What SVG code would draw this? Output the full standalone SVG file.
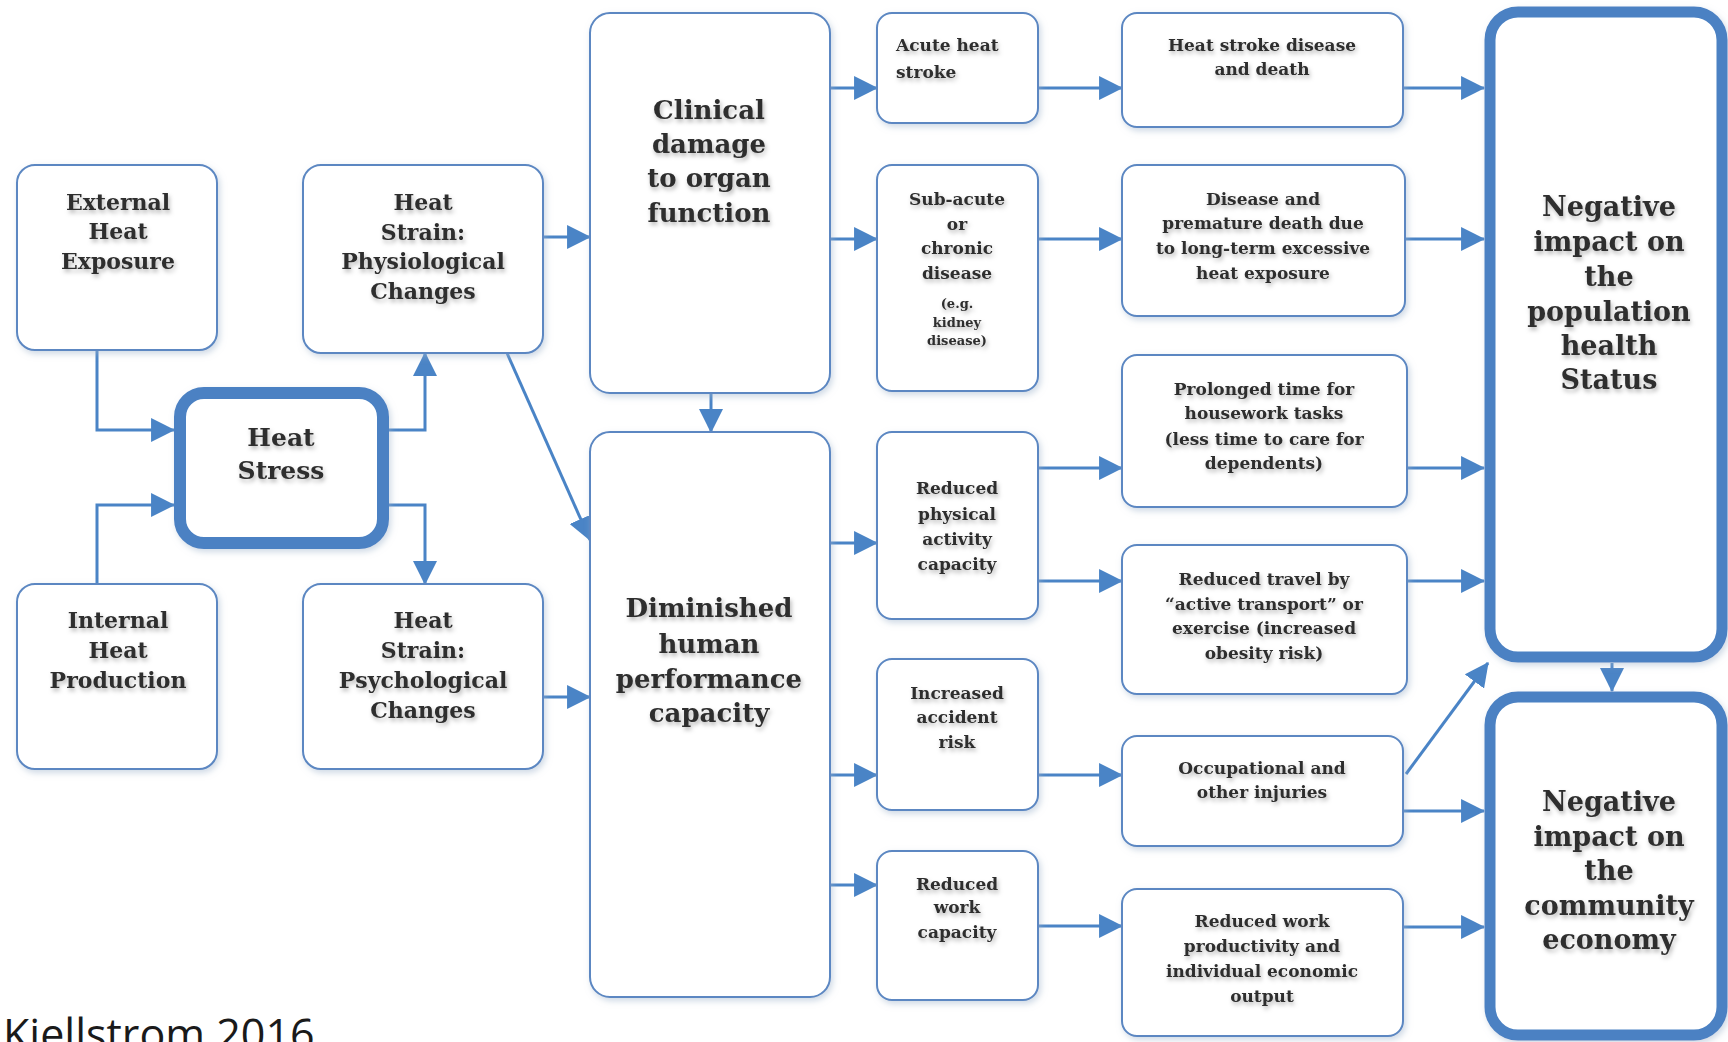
<svg xmlns="http://www.w3.org/2000/svg" width="1728" height="1042" viewBox="0 0 1728 1042">
<defs>
<filter id="bs" x="-10%" y="-10%" width="130%" height="130%"><feDropShadow dx="2" dy="3" stdDeviation="3" flood-color="#9fb3cc" flood-opacity="0.5"/></filter>
<filter id="ts" x="-10%" y="-20%" width="130%" height="160%"><feDropShadow dx="1.5" dy="3" stdDeviation="2.2" flood-color="#000" flood-opacity="0.28"/></filter>
<marker id="ah" markerUnits="userSpaceOnUse" markerWidth="24" markerHeight="24" viewBox="0 0 22 22" refX="21" refY="11" orient="auto"><path d="M0,0 L22,11 L0,22 z" fill="#4a84c6"/></marker>
</defs>
<style>
.b{fill:#fff;stroke:#5b87c2;stroke-width:2;filter:url(#bs)}
.t{fill:#fff;stroke:#4b81c3;filter:url(#bs)}
text{font-family:"DejaVu Serif","Liberation Serif",serif;font-weight:bold;fill:#2e2e2e;text-anchor:middle;filter:url(#ts)}
.m{font-size:22px}.h{font-size:25px}.l{font-size:26px}.n{font-size:27px}.s{font-size:17px}.x{font-size:13px}
.c{fill:none;stroke:#4a84c6;stroke-width:3;marker-end:url(#ah)}
.cap{font-family:"Open Sans","DejaVu Sans",sans-serif;font-weight:normal;font-size:43px;fill:#1a1a1a;text-anchor:start;filter:none}
</style>
<rect width="1728" height="1042" fill="#fff"/>
<g id="connectors">
<path class="c" d="M97,350 V430 H174"/>
<path class="c" d="M97,584 V505 H174"/>
<path class="c" d="M389,430 H425 V353"/>
<path class="c" d="M389,505 H425 V584"/>
<path class="c" d="M543,237 H590"/>
<path class="c" d="M507,353 L590,540"/>
<path class="c" d="M543,697 H590"/>
<path class="c" d="M711,393 V432"/>
<path class="c" d="M830,88 H877"/>
<path class="c" d="M830,239 H877"/>
<path class="c" d="M830,543 H877"/>
<path class="c" d="M830,775 H877"/>
<path class="c" d="M830,885 H877"/>
<path class="c" d="M1038,88 H1122"/>
<path class="c" d="M1038,239 H1122"/>
<path class="c" d="M1038,468 H1122"/>
<path class="c" d="M1038,581 H1122"/>
<path class="c" d="M1038,775 H1122"/>
<path class="c" d="M1038,926 H1122"/>
<path class="c" d="M1403,88 H1484"/>
<path class="c" d="M1405,239 H1484"/>
<path class="c" d="M1407,468 H1484"/>
<path class="c" d="M1407,581 H1484"/>
<path class="c" d="M1406,774 L1488,663"/>
<path class="c" d="M1403,811 H1484"/>
<path class="c" d="M1403,927 H1484"/>
<path class="c" d="M1612,663 V691"/>
</g>
<g id="external"><rect class="b" x="17" y="165" width="200" height="185" rx="18"/>
<text class="m" x="118"><tspan x="118" y="210">External</tspan><tspan x="118" y="239">Heat</tspan><tspan x="118" y="269">Exposure</tspan></text></g>
<g id="internal"><rect class="b" x="17" y="584" width="200" height="185" rx="18"/>
<text class="m"><tspan x="118" y="628">Internal</tspan><tspan x="118" y="658">Heat</tspan><tspan x="118" y="688">Production</tspan></text></g>
<g id="heatstress"><rect class="t" x="180" y="393" width="203" height="150" rx="24" stroke-width="12"/>
<text class="h"><tspan x="281" y="446">Heat</tspan><tspan x="281" y="479">Stress</tspan></text></g>
<g id="physio"><rect class="b" x="303" y="165" width="240" height="188" rx="18"/>
<text class="m"><tspan x="423" y="210">Heat</tspan><tspan x="423" y="240">Strain:</tspan><tspan x="423" y="269">Physiological</tspan><tspan x="423" y="299">Changes</tspan></text></g>
<g id="psycho"><rect class="b" x="303" y="584" width="240" height="185" rx="18"/>
<text class="m"><tspan x="423" y="628">Heat</tspan><tspan x="423" y="658">Strain:</tspan><tspan x="423" y="688">Psychological</tspan><tspan x="423" y="718">Changes</tspan></text></g>
<g id="clinical"><rect class="b" x="590" y="13" width="240" height="380" rx="20"/>
<text class="l"><tspan x="709" y="119">Clinical</tspan><tspan x="709" y="153">damage</tspan><tspan x="709" y="187">to organ</tspan><tspan x="709" y="222">function</tspan></text></g>
<g id="diminished"><rect class="b" x="590" y="432" width="240" height="565" rx="20"/>
<text class="l"><tspan x="709" y="617">Diminished</tspan><tspan x="709" y="653">human</tspan><tspan x="709" y="688">performance</tspan><tspan x="709" y="722">capacity</tspan></text></g>
<g id="acute"><rect class="b" x="877" y="13" width="161" height="110" rx="15"/>
<text class="s" style="text-anchor:start"><tspan x="896" y="51">Acute heat</tspan><tspan x="896" y="78">stroke</tspan></text></g>
<g id="subacute"><rect class="b" x="877" y="165" width="161" height="226" rx="15"/>
<text class="s"><tspan x="957" y="205">Sub-acute</tspan><tspan x="957" y="230">or</tspan><tspan x="957" y="254">chronic</tspan><tspan x="957" y="279">disease</tspan></text>
<text class="x"><tspan x="957" y="308">(e.g.</tspan><tspan x="957" y="327">kidney</tspan><tspan x="957" y="345">disease)</tspan></text></g>
<g id="redphys"><rect class="b" x="877" y="432" width="161" height="187" rx="15"/>
<text class="s"><tspan x="957" y="494">Reduced</tspan><tspan x="957" y="520">physical</tspan><tspan x="957" y="545">activity</tspan><tspan x="957" y="570">capacity</tspan></text></g>
<g id="accident"><rect class="b" x="877" y="659" width="161" height="151" rx="15"/>
<text class="s"><tspan x="957" y="699">Increased</tspan><tspan x="957" y="723">accident</tspan><tspan x="957" y="748">risk</tspan></text></g>
<g id="redwork"><rect class="b" x="877" y="851" width="161" height="149" rx="15"/>
<text class="s"><tspan x="957" y="890">Reduced</tspan><tspan x="957" y="913">work</tspan><tspan x="957" y="938">capacity</tspan></text></g>
<g id="hsdeath"><rect class="b" x="1122" y="13" width="281" height="114" rx="15"/>
<text class="s"><tspan x="1262" y="51">Heat stroke disease</tspan><tspan x="1262" y="75">and death</tspan></text></g>
<g id="disease"><rect class="b" x="1122" y="165" width="283" height="151" rx="15"/>
<text class="s"><tspan x="1263" y="205">Disease and</tspan><tspan x="1263" y="229">premature death due</tspan><tspan x="1263" y="254">to long-term excessive</tspan><tspan x="1263" y="279">heat exposure</tspan></text></g>
<g id="prolonged"><rect class="b" x="1122" y="355" width="285" height="152" rx="15"/>
<text class="s"><tspan x="1264" y="395">Prolonged time for</tspan><tspan x="1264" y="419">housework tasks</tspan><tspan x="1264" y="445">(less time to care for</tspan><tspan x="1264" y="469">dependents)</tspan></text></g>
<g id="travel"><rect class="b" x="1122" y="545" width="285" height="149" rx="15"/>
<text class="s"><tspan x="1264" y="585">Reduced travel by</tspan><tspan x="1264" y="610">“active transport” or</tspan><tspan x="1264" y="634">exercise (increased</tspan><tspan x="1264" y="659">obesity risk)</tspan></text></g>
<g id="occupational"><rect class="b" x="1122" y="736" width="281" height="110" rx="15"/>
<text class="s"><tspan x="1262" y="774">Occupational and</tspan><tspan x="1262" y="798">other injuries</tspan></text></g>
<g id="productivity"><rect class="b" x="1122" y="889" width="281" height="147" rx="15"/>
<text class="s"><tspan x="1262" y="927">Reduced work</tspan><tspan x="1262" y="952">productivity and</tspan><tspan x="1262" y="977">individual economic</tspan><tspan x="1262" y="1002">output</tspan></text></g>
<g id="negpop"><rect class="t" x="1490" y="12" width="232" height="645" rx="28" stroke-width="11"/>
<text class="n"><tspan x="1609" y="216">Negative</tspan><tspan x="1609" y="251">impact on</tspan><tspan x="1609" y="286">the</tspan><tspan x="1609" y="321">population</tspan><tspan x="1609" y="355">health</tspan><tspan x="1609" y="389">Status</tspan></text></g>
<g id="negcom"><rect class="t" x="1490" y="697" width="232" height="338" rx="28" stroke-width="11"/>
<text class="n"><tspan x="1609" y="811">Negative</tspan><tspan x="1609" y="846">impact on</tspan><tspan x="1609" y="880">the</tspan><tspan x="1609" y="915">community</tspan><tspan x="1609" y="949">economy</tspan></text></g>
<text class="cap" x="3" y="1050">Kjellstrom 2016</text>
</svg>
